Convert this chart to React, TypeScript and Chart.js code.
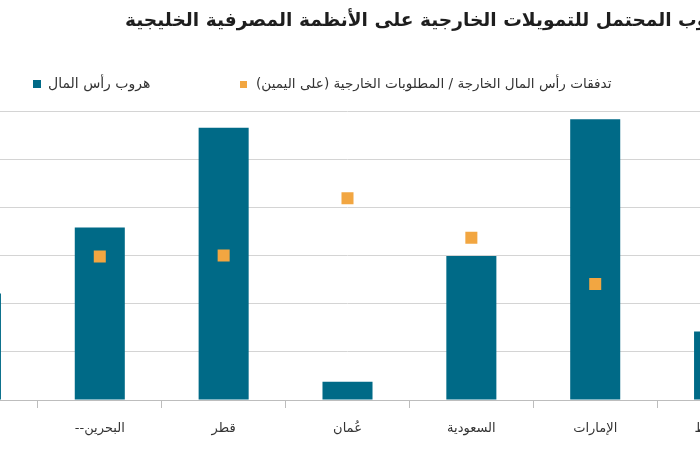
import React, { useEffect, useRef } from "react";
import { Chart, registerables } from "chart.js";

Chart.register(...registerables);

const titleText = "الهروب المحتمل للتمويلات الخارجية على الأنظمة المصرفية الخليجية";
const legendBars = "هروب رأس المال";
const legendMarkers = "تدفقات رأس المال الخارجة / المطلوبات الخارجية (على اليمين)";

const categories = ["الكويت", "--البحرين", "قطر", "عُمان", "السعودية", "الإمارات", "المتوسط"];
const capitalFlight = [2.21, 3.58, 5.65, 0.38, 2.99, 5.83, 1.42];
const externalOutflows: (number | null)[] = [null, 2.98, 3.0, 4.19, 3.37, 2.41, null];
const yTicks = [0, 1, 2, 3, 4, 5, 6];

const TEAL = "#006a87";
const ORANGE = "#f2a641";
const OFFSET = 100; // canvas shifted left by this many px (chart is cropped)
const FONT = "'DejaVu Sans', sans-serif";

const overlayPlugin = {
  id: "overlay",
  afterDraw(chart: any) {
    const ctx = chart.ctx as CanvasRenderingContext2D;
    ctx.save();
    (ctx as any).direction = "rtl";
    // title
    ctx.fillStyle = "#1e1e1e";
    ctx.font = `bold 18.6px ${FONT}`;
    ctx.textAlign = "left";
    ctx.textBaseline = "middle";
    ctx.fillText(titleText, 125 + OFFSET, 21);
    // legend
    ctx.font = `14px ${FONT}`;
    ctx.fillStyle = TEAL;
    ctx.fillRect(33 + OFFSET, 80, 8, 8);
    ctx.fillStyle = "#333";
    ctx.fillText(legendBars, 48 + OFFSET, 84);
    ctx.fillStyle = ORANGE;
    ctx.fillRect(240 + OFFSET, 81, 7, 7);
    ctx.fillStyle = "#333";
    ctx.font = `13.6px ${FONT}`;
    ctx.fillText(legendMarkers, 256 + OFFSET, 84);
    ctx.restore();
  },
};

export default function App() {
  const ref = useRef<HTMLCanvasElement>(null);
  useEffect(() => {
    document.body.style.margin = "0";
    const chart = new Chart(ref.current!, {
      type: "bar",
      data: {
        labels: categories,
        datasets: [
          {
            type: "line",
            label: legendMarkers,
            data: externalOutflows,
            yAxisID: "y2",
            showLine: false,
            pointStyle: "rect",
            pointRadius: 8.5,
            pointHoverRadius: 8.5,
            pointBackgroundColor: ORANGE,
            pointBorderWidth: 0,
            borderColor: ORANGE,
            backgroundColor: ORANGE,
            order: 0,
          } as any,
          {
            type: "bar",
            label: legendBars,
            data: capitalFlight,
            yAxisID: "y",
            backgroundColor: TEAL,
            barPercentage: 0.404,
            categoryPercentage: 1,
            order: 1,
          },
        ],
      },
      options: {
        animation: false,
        responsive: false,
        layout: { padding: { top: 111, left: 14, right: 119, bottom: 0 } },
        plugins: { legend: { display: false }, title: { display: false }, tooltip: { enabled: false } },
        scales: {
          x: {
            offset: true,
            grid: { display: true, drawOnChartArea: false, drawTicks: true, tickLength: 8, color: "#bdbdbd", offset: true },
            border: { display: true, color: "#bdbdbd" },
            ticks: { color: "#333", font: { family: FONT, size: 13 }, padding: 13, maxRotation: 0 },
            afterFit: (s: any) => { s.height = 50; },
          },
          y: {
            position: "left",
            min: 0,
            max: 6,
            afterBuildTicks: (s: any) => { s.ticks = yTicks.map((v) => ({ value: v })); },
            ticks: { display: false },
            grid: { color: "#d4d4d4", drawTicks: false },
            border: { display: false },
            afterFit: (s: any) => { s.width = 0; },
          },
          y2: {
            position: "right",
            min: 0,
            max: 6,
            display: false,
          },
        },
      },
      plugins: [overlayPlugin],
    });
    return () => chart.destroy();
  }, []);
  return (
    <div style={{ position: "relative", width: 700, height: 450, overflow: "hidden", background: "#fff" }}>
      <canvas ref={ref} width={1000} height={450} style={{ position: "absolute", left: -OFFSET, top: 0, width: 1000, height: 450 }} />
    </div>
  );
}
